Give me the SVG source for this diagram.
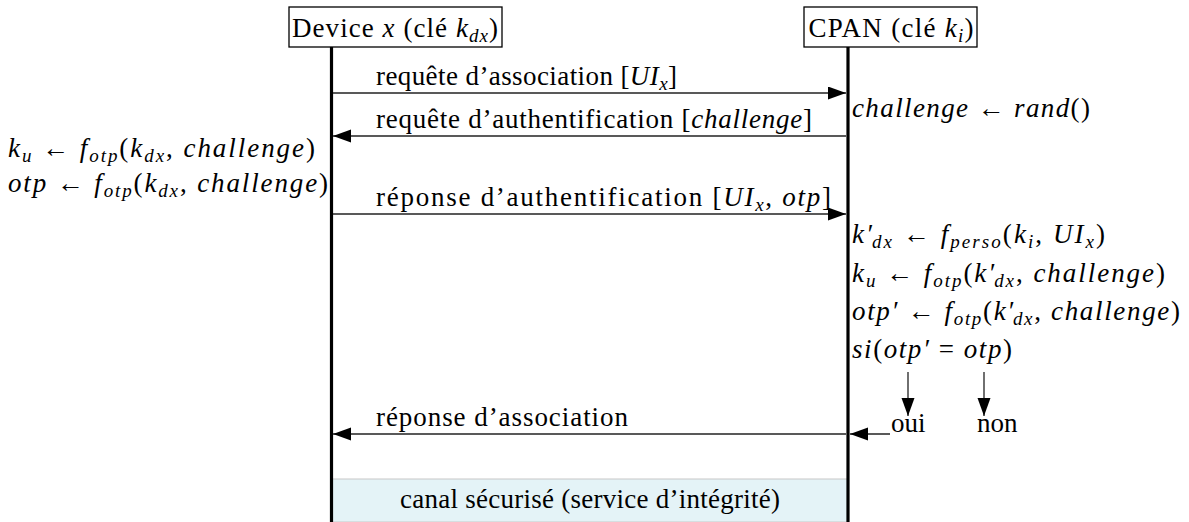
<svg xmlns="http://www.w3.org/2000/svg" width="1189" height="522" viewBox="0 0 1189 522">
<style>
text{font-family:"Liberation Serif","DejaVu Serif",serif;font-size:27px;fill:#000}
.i{font-style:italic}
.s{font-size:19px}
.box{fill:#fff;stroke:#000;stroke-width:1.3}
.life{stroke:#000;stroke-width:3.2;fill:none}
.msg{stroke:#222;stroke-width:1.3;fill:none;marker-end:url(#ah)}
</style>
<defs>
<marker id="ah" markerUnits="userSpaceOnUse" markerWidth="19" markerHeight="14" refX="18" refY="6.5" orient="auto">
<path d="M0,0 L18,6.5 L0,13 z" fill="#000"/>
</marker>
</defs>
<rect id="canal-bg" x="332" y="479" width="516" height="43" fill="#e4f3f7" stroke="#c8c8c8" stroke-width="1"/>
<g id="connectors">
<line class="life" x1="331.5" y1="47" x2="331.5" y2="522"/>
<line class="life" x1="848" y1="47" x2="848" y2="522"/>
<line class="msg" x1="333" y1="93" x2="846" y2="93"/>
<line class="msg" x1="846" y1="136" x2="333" y2="136"/>
<line class="msg" x1="333" y1="214" x2="846" y2="214"/>
<line class="msg" x1="846" y1="434" x2="333" y2="434"/>
<line class="msg" x1="890" y1="434" x2="850" y2="434"/>
<line class="msg" x1="908" y1="372" x2="908" y2="416"/>
<line class="msg" x1="984" y1="372" x2="984" y2="416"/>
</g>
<g id="device">
<rect class="box" x="289" y="7" width="213" height="40"/>
<text x="395" y="37" text-anchor="middle" textLength="206" lengthAdjust="spacing">Device <tspan class="i">x</tspan> (clé <tspan class="i">k</tspan><tspan class="s i" dy="5">dx</tspan><tspan dy="-5">)</tspan></text>
</g>
<g id="cpan">
<rect class="box" x="804" y="7" width="173" height="40"/>
<text x="891" y="37" text-anchor="middle" textLength="165" lengthAdjust="spacing">CPAN (clé <tspan class="i">k</tspan><tspan class="s i" dy="5">i</tspan><tspan dy="-5">)</tspan></text>
</g>
<g id="labels">
<text x="376" y="85" textLength="301" lengthAdjust="spacing">requête d’association [<tspan class="i">UI</tspan><tspan class="s i" dy="5">x</tspan><tspan dy="-5">]</tspan></text>
<text x="376" y="128" textLength="436" lengthAdjust="spacing">requête d’authentification [<tspan class="i">challenge</tspan>]</text>
<text x="376" y="206" textLength="455" lengthAdjust="spacing">réponse d’authentification [<tspan class="i">UI</tspan><tspan class="s i" dy="5">x</tspan><tspan dy="-5">, </tspan><tspan class="i">otp</tspan>]</text>
<text x="376" y="426" textLength="252" lengthAdjust="spacing">réponse d’association</text>
</g>
<g id="device-ops">
<text x="8" y="157" textLength="307" lengthAdjust="spacing"><tspan class="i">k</tspan><tspan class="s i" dy="5">u</tspan><tspan dy="-5"> ← </tspan><tspan class="i">f</tspan><tspan class="s i" dy="5">otp</tspan><tspan dy="-5">(</tspan><tspan class="i">k</tspan><tspan class="s i" dy="5">dx</tspan><tspan dy="-5">, </tspan><tspan class="i">challenge</tspan>)</text>
<text x="8" y="192" textLength="320" lengthAdjust="spacing"><tspan class="i">otp</tspan> ← <tspan class="i">f</tspan><tspan class="s i" dy="5">otp</tspan><tspan dy="-5">(</tspan><tspan class="i">k</tspan><tspan class="s i" dy="5">dx</tspan><tspan dy="-5">, </tspan><tspan class="i">challenge</tspan>)</text>
</g>
<g id="cpan-ops">
<text x="852" y="117" textLength="238" lengthAdjust="spacing"><tspan class="i">challenge</tspan> ← <tspan class="i">rand</tspan>()</text>
<text x="852" y="243" textLength="253" lengthAdjust="spacing"><tspan class="i">k′</tspan><tspan class="s i" dx="-2" dy="5">dx</tspan><tspan dy="-5"> ← </tspan><tspan class="i">f</tspan><tspan class="s i" dy="5">perso</tspan><tspan dy="-5">(</tspan><tspan class="i">k</tspan><tspan class="s i" dy="5">i</tspan><tspan dy="-5">, </tspan><tspan class="i">UI</tspan><tspan class="s i" dy="5">x</tspan><tspan dy="-5">)</tspan></text>
<text x="852" y="282" textLength="313" lengthAdjust="spacing"><tspan class="i">k</tspan><tspan class="s i" dy="5">u</tspan><tspan dy="-5"> ← </tspan><tspan class="i">f</tspan><tspan class="s i" dy="5">otp</tspan><tspan dy="-5">(</tspan><tspan class="i">k′</tspan><tspan class="s i" dx="-2" dy="5">dx</tspan><tspan dy="-5">, </tspan><tspan class="i">challenge</tspan>)</text>
<text x="852" y="320" textLength="328" lengthAdjust="spacing"><tspan class="i">otp′</tspan> ← <tspan class="i">f</tspan><tspan class="s i" dy="5">otp</tspan><tspan dy="-5">(</tspan><tspan class="i">k′</tspan><tspan class="s i" dx="-2" dy="5">dx</tspan><tspan dy="-5">, </tspan><tspan class="i">challenge</tspan>)</text>
<text x="852" y="358" textLength="160" lengthAdjust="spacing"><tspan class="i">si</tspan>(<tspan class="i">otp′</tspan> = <tspan class="i">otp</tspan>)</text>
<text x="891" y="432">oui</text>
<text x="977" y="432">non</text>
</g>
<g id="canal">
<text x="590" y="508" text-anchor="middle" textLength="380" lengthAdjust="spacing">canal sécurisé (service d’intégrité)</text>
</g>
</svg>
